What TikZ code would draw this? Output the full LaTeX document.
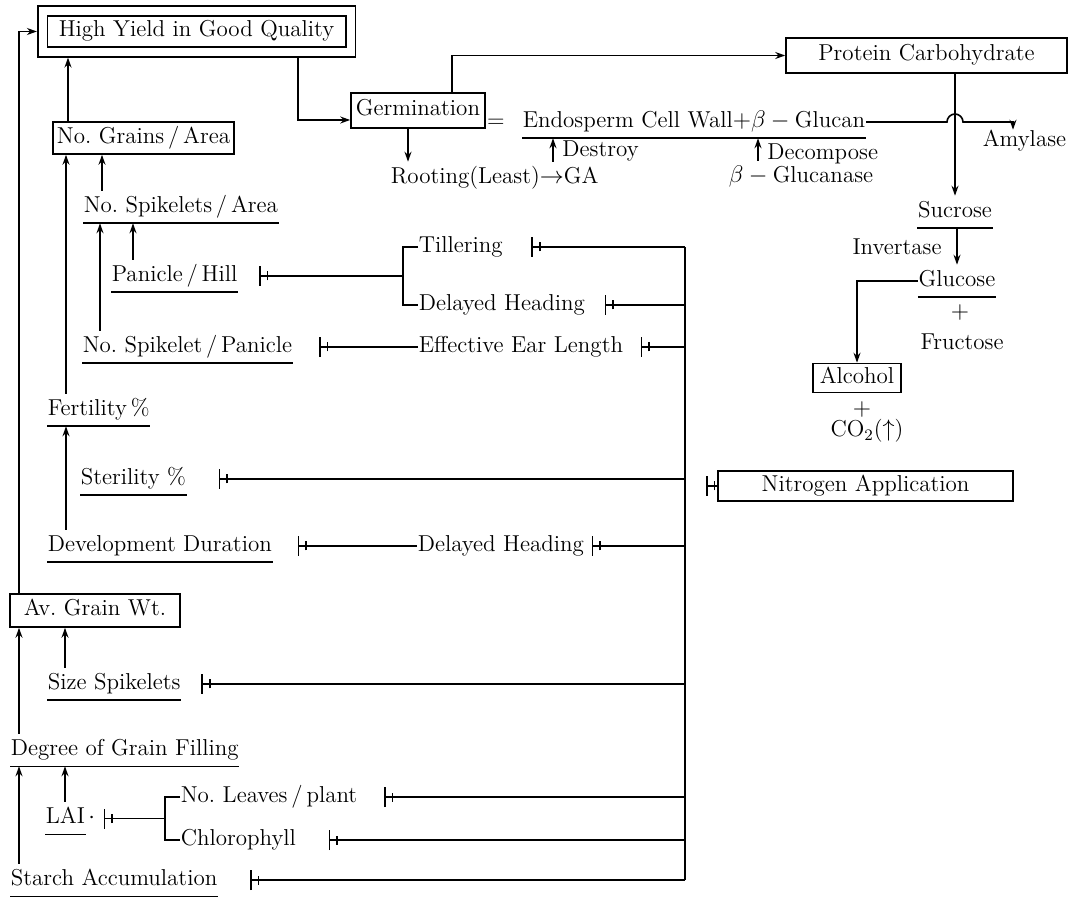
\documentclass[tikz,border=0pt]{standalone}
\usetikzlibrary{arrows.meta}
\tikzset{
  box/.style={draw, inner sep=2pt, text height=8pt, text depth=2.5pt},
  dbox/.style={box, double, double distance=4pt, outer sep=2.8pt},
  txt/.style={inner xsep=0pt, inner ysep=2.5pt, text height=8pt, text depth=2.5pt},
  arr/.style={-{Stealth[length=5pt,width=3.5pt]}},
  inh/.style={-{Bar[width=4.5pt,sep=3pt]Bar[width=10pt]}}
}
\begin{document}
\begin{tikzpicture}[x=0.5pt, y=-0.5pt, line width=0.8pt, font=\fontsize{11.5}{13}\selectfont]
    \useasboundingbox (0,0) rectangle (1072,898);
    % Yield components
    \node[dbox, minimum width=154pt, minimum height=20.5pt] (hy) at (196.5,31.5) {High Yield in Good Quality};
    \node[box, minimum width=88.5pt, minimum height=16pt] (ng) at (143.5,138) {No.\ Grains\,/\,Area};
    \node[txt, anchor=west] (nsa) at (83,207) {No.\ Spikelets\,/\,Area};
    \node[txt, anchor=west] (ph) at (111,276) {Panicle\,/\,Hill};
    \node[txt, anchor=west] (nsp) at (82,347) {No.\ Spikelet\,/\,Panicle};
    \node[txt, anchor=west] (fert) at (47,410) {Fertility\,\%};
    \node[txt, anchor=west] (ster) at (80,479) {Sterility \%};
    \node[txt, anchor=west] (dd) at (47,546) {Development Duration};
    \node[box, minimum width=85pt, minimum height=16.5pt] (agw) at (95,610.5) {Av.\ Grain Wt.};
    \node[txt, anchor=west] (ss) at (47,684) {Size Spikelets};
    \node[txt, anchor=west] (dgf) at (10,750) {Degree of Grain Filling};
    \node[txt, anchor=west, label={[inner sep=1pt]right:$\cdot$}] (lai) at (45,818) {LAI};
    \node[txt, anchor=west] (sa) at (10,880) {Starch Accumulation};
    % Factors
    \node[txt, anchor=west] (till) at (418,247) {Tillering};
    \node[txt, anchor=west] (dh1) at (418,305) {Delayed Heading};
    \node[txt, anchor=west] (eel) at (418,347) {Effective Ear Length};
    \node[txt, anchor=west] (dh2) at (417,546) {Delayed Heading};
    \node[txt, anchor=west] (nl) at (180,797) {No.\ Leaves\,/\,plant};
    \node[txt, anchor=west] (chl) at (180,840) {Chlorophyll};
    \node[box, minimum width=147.5pt, minimum height=15pt] (nitro) at (865.5,486) {Nitrogen Application};
    % Germination
    \node[box, minimum width=67pt, minimum height=17.5pt] (germ) at (418,110.5) {Germination};
    \node[txt] (eq) at (496,122) {=};
    \node[txt, anchor=west] (ecw) at (522,122) {Endosperm Cell Wall$+\beta-{}$Glucan};
    \node[txt, anchor=west] (root) at (390,178) {Rooting(Least)$\rightarrow$GA};
    \node[txt] (glc) at (801,177) {$\beta-{}$Glucanase};
    \node[box, minimum width=140.5pt, minimum height=17.5pt] (prot) at (926.5,55.5) {Protein Carbohydrate};
    \node[txt, inner ysep=0pt, anchor=west] (amy) at (982,141) {Amylase};
    \node[txt] (suc) at (955,212) {Sucrose};
    \node[txt] (glu) at (957,281) {Glucose};
    \node[txt] (pl1) at (960,313) {$+$};
    \node[txt] (fru) at (962,344) {Fructose};
    \node[box, minimum width=44pt, minimum height=14pt] (alc) at (857,378) {Alcohol};
    \node[txt] (pl2) at (862,410) {$+$};
    \node[txt] (co2) at (867,431) {CO$_2$($\uparrow$)};
    % Underlines
    \foreach \n in {nsa,ph,nsp,fert,ster,dd,ss,dgf,lai,sa,ecw,suc,glu}
        \draw (\n.south west) -- (\n.south east);
    % Arrows up the left side
    \draw[arr] (agw.north -| 19,0) |- (hy.west);
    \draw[arr] (ng.north -| 68,0) -- (hy.south -| 68,0);
    \draw[arr] (fert.north -| 66,0) -- (ng.south -| 66,0);
    \draw[arr] (nsa.north -| 102,0) -- (ng.south -| 102,0);
    \draw[arr] (nsp.north -| 100,0) -- (nsa.south -| 100,0);
    \draw[arr] (ph.north -| 133,0) -- (nsa.south -| 133,0);
    \draw[arr] (dd.north -| 66,0) -- (fert.south -| 66,0);
    \draw[arr] (dgf.north -| 19,0) -- (agw.south -| 19,0);
    \draw[arr] (ss.north -| 65,0) -- (agw.south -| 65,0);
    \draw[arr] (sa.north -| 19,0) -- (dgf.south -| 19,0);
    \draw[arr] (lai.north -| 65,0) -- (dgf.south -| 65,0);
    % Germination branch
    \draw[arr] (hy.south -| 298,0) |- (germ.west |- 0,120);
    \draw[arr] (germ.north -| 452,0) |- (prot.west);
    \draw[arr] (germ.south -| 408,0) -- (root.north -| 408,0);
    \draw[arr] (root.north -| 553,0) -- node[right=1pt, pos=0.45] (destroy) {Destroy} (ecw.south -| 553,0);
    \draw[arr] (glc.north -| 758,0) -- node[right=1pt, pos=0.3] (decomp) {Decompose} (ecw.south -| 758,0);
    \draw[arr] (ecw.east) -- (ecw.east -| 947,0) arc[start angle=180, end angle=0, radius=4pt] -| (amy.north -| 1013,0);
    \draw[arr] (prot.south -| 955,0) -- (suc.north -| 955,0);
    \draw[arr] (suc.south -| 957,0) -- node[left=4pt] (inv) {Invertase} (glu.north -| 957,0);
    \draw[arr] (glu.west) -| (alc.north);
    % Nitrogen bus
    \coordinate (bus) at (685,0);
    \draw (till.east -| bus) -- (sa.east -| bus);
    \draw[inh] (till.east -| bus) -- ([xshift=14pt]till.east);
    \draw[inh] (dh1.east -| bus) -- ([xshift=9.5pt]dh1.east);
    \draw[inh] (eel.east -| bus) -- ([xshift=8.5pt]eel.east);
    \draw[inh] (ster.east -| bus) -- ([xshift=16pt]ster.east);
    \draw[inh] (dh2.east -| bus) -- ([xshift=3.5pt]dh2.east);
    \draw[inh] (ss.east -| bus) -- ([xshift=10pt]ss.east);
    \draw[inh] (nl.east -| bus) -- ([xshift=13pt]nl.east);
    \draw[inh] (chl.east -| bus) -- ([xshift=16pt]chl.east);
    \draw[inh] (sa.east -| bus) -- ([xshift=16pt]sa.east);
    \draw[inh] (nitro.west) -- ++(-11,0);
    % Brackets and side chains
    \draw (till.west) -- ++(-15,0) |- (dh1.west);
    \coordinate (tk) at (403,276);
    \draw[inh] (tk) -- ([xshift=10.5pt]ph.east |- tk);
    \draw[inh] (eel.west) -- ([xshift=13pt]nsp.east);
    \draw[inh] (dh2.west) -- ([xshift=12.5pt]dd.east);
    \draw (nl.west) -- ++(-15,0) |- (chl.west);
    \coordinate (lk) at (165,818.5);
    \draw[inh] (lk) -- ([xshift=9pt]lai.east |- lk);
\end{tikzpicture}
\end{document}
